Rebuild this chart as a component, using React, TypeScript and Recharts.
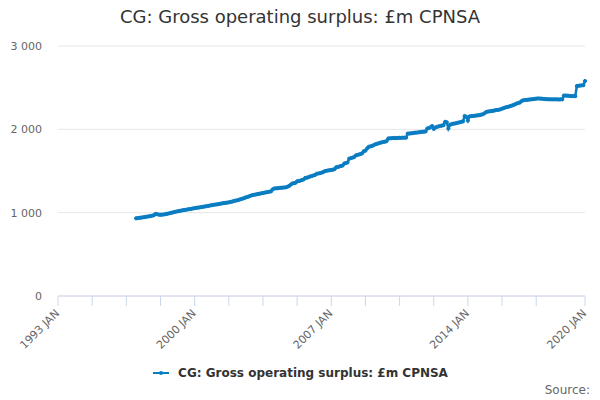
import React from 'react';
import { LineChart, Line, XAxis, YAxis, CartesianGrid } from 'recharts';

const FONT = '"DejaVu Sans", Verdana, sans-serif';
const COLOR = '#0a7dc2';

// Monthly values (JAN..DEC), £m
const startYear = 1997;
const v1997 = [932, 935, 938, 940, 943, 946, 950, 953, 956, 960, 964, 970];
const v1998 = [985, 982, 976, 974, 976, 978, 982, 986, 990, 995, 1000, 1005];
const v1999 = [1010, 1014, 1018, 1022, 1026, 1030, 1033, 1036, 1040, 1043, 1046, 1050];
const v2000 = [1055, 1058, 1060, 1063, 1066, 1070, 1073, 1077, 1080, 1084, 1088, 1092];
const v2001 = [1095, 1098, 1100, 1104, 1108, 1112, 1115, 1118, 1120, 1124, 1128, 1132];
const v2002 = [1140, 1144, 1148, 1152, 1160, 1166, 1172, 1180, 1186, 1192, 1200, 1208];
const v2003 = [1212, 1216, 1220, 1224, 1228, 1232, 1236, 1240, 1244, 1248, 1252, 1256];
const v2004 = [1280, 1290, 1292, 1294, 1296, 1298, 1300, 1302, 1304, 1310, 1320, 1335];
const v2005 = [1350, 1354, 1358, 1376, 1380, 1384, 1392, 1398, 1416, 1420, 1426, 1434];
const v2006 = [1440, 1446, 1452, 1466, 1470, 1474, 1480, 1486, 1498, 1502, 1506, 1510];
const v2007 = [1512, 1516, 1522, 1544, 1548, 1554, 1560, 1566, 1590, 1596, 1602, 1648];
const v2008 = [1654, 1660, 1666, 1686, 1692, 1698, 1704, 1712, 1738, 1744, 1770, 1790];
const v2009 = [1795, 1800, 1810, 1820, 1826, 1832, 1838, 1844, 1848, 1852, 1858, 1890];
const v2010 = [1892, 1894, 1895, 1896, 1896, 1897, 1898, 1898, 1899, 1900, 1900, 1948];
const v2011 = [1950, 1952, 1955, 1958, 1960, 1962, 1965, 1968, 1970, 1972, 1975, 2010];
const v2012 = [2015, 2025, 2040, 2005, 2022, 2030, 2035, 2040, 2045, 2050, 2090, 2085];
const v2013 = [2010, 2055, 2062, 2068, 2070, 2075, 2080, 2085, 2090, 2095, 2160, 2150];
const v2014 = [2105, 2155, 2158, 2160, 2162, 2165, 2168, 2170, 2175, 2180, 2190, 2205];
const v2015 = [2212, 2215, 2218, 2220, 2225, 2230, 2232, 2235, 2240, 2248, 2255, 2262];
const v2016 = [2268, 2272, 2278, 2285, 2292, 2300, 2310, 2316, 2322, 2340, 2348, 2352];
const v2017 = [2352, 2355, 2358, 2360, 2362, 2365, 2368, 2370, 2370, 2368, 2366, 2364];
const v2018 = [2362, 2362, 2360, 2360, 2360, 2360, 2360, 2360, 2358, 2360, 2360, 2405];
const v2019 = [2405, 2404, 2402, 2400, 2398, 2400, 2398, 2520, 2522, 2525, 2528, 2530];
const v2020 = [2580];

const yearValues = [
  v1997, v1998, v1999, v2000, v2001, v2002, v2003, v2004, v2005, v2006, v2007, v2008,
  v2009, v2010, v2011, v2012, v2013, v2014, v2015, v2016, v2017, v2018, v2019, v2020,
];

const xTicks = [1993, 1994.75, 1996.5, 1998.25, 2000, 2001.75, 2003.5, 2005.25, 2007, 2008.75, 2010.5, 2012.25, 2014, 2015.75, 2017.5, 2020];
const xLabelYears = [1993, 2000, 2007, 2014, 2020];
const yTicks = [0, 1000, 2000, 3000];

const data: { t: number; value: number }[] = [];
yearValues.forEach((arr, i) => {
  arr.forEach((v, m) => {
    data.push({ t: startYear + i + m / 12, value: v });
  });
});

const fmtY = (v: number) =>
  v === 0 ? '0' : `${Math.floor(v / 1000)} ${String(v % 1000).padStart(3, '0')}`;

const XTick = (props: any) => {
  const { x, y, payload } = props;
  const v = payload.value;
  const lab = xLabelYears.find((yy) => Math.abs(yy - v) < 1e-6);
  if (lab === undefined) return null;
  return (
    <g transform={`translate(${x + 2},${y + 8})`}>
      <text x={0} y={0} textAnchor="end" transform="rotate(-45)" fill="#666666" fontSize={11} fontFamily={FONT}>
        {`${lab} JAN`}
      </text>
    </g>
  );
};

export default function App() {
  return (
    <div style={{ position: 'absolute', left: 0, top: 0, width: 600, height: 400, background: '#fff', fontFamily: FONT }}>
      <div style={{ position: 'absolute', left: 0, top: 6, width: 600, textAlign: 'center', fontSize: 18, color: '#333333', lineHeight: '22px' }}>
        CG: Gross operating surplus: £m CPNSA
      </div>
      <LineChart width={600} height={400} data={data} margin={{ top: 46, right: 15, bottom: 44, left: 0 }}>
        <CartesianGrid vertical={false} stroke="#e6e6e6" />
        <XAxis
          dataKey="t"
          type="number"
          domain={[1993, 2020]}
          ticks={xTicks}
          interval={0}
          tick={<XTick />}
          tickSize={10}
          tickMargin={0}
          height={60}
          stroke="#ccd6eb"
          axisLine={{ stroke: '#ccd6eb' }}
          tickLine={{ stroke: '#ccd6eb' }}
        />
        <YAxis
          type="number"
          domain={[0, 3000]}
          ticks={yTicks}
          tickFormatter={fmtY}
          axisLine={false}
          tickLine={false}
          tickSize={0}
          tickMargin={16}
          width={58}
          tick={{ fill: '#666666', fontSize: 11, fontFamily: FONT }}
        />
        <Line
          type="linear"
          dataKey="value"
          stroke={COLOR}
          strokeWidth={2.5}
          dot={{ r: 1.6, fill: COLOR, stroke: COLOR, strokeWidth: 1 }}
          isAnimationActive={false}
        />
      </LineChart>
      <div style={{ position: 'absolute', left: 0, top: 365, width: 600, display: 'flex', justifyContent: 'center', alignItems: 'center' }}>
        <svg width={22} height={12} style={{ marginRight: 4 }}>
          <line x1={1} y1={6} x2={17} y2={6} stroke={COLOR} strokeWidth={2} />
          <circle cx={9} cy={6} r={2} fill={COLOR} />
        </svg>
        <span style={{ fontSize: 12, fontWeight: 'bold', color: '#333333', lineHeight: '16px' }}>
          CG: Gross operating surplus: £m CPNSA
        </span>
      </div>
      <div style={{ position: 'absolute', right: 10, top: 382, fontSize: 12, color: '#666666', lineHeight: '16px' }}>
        Source:
      </div>
    </div>
  );
}
